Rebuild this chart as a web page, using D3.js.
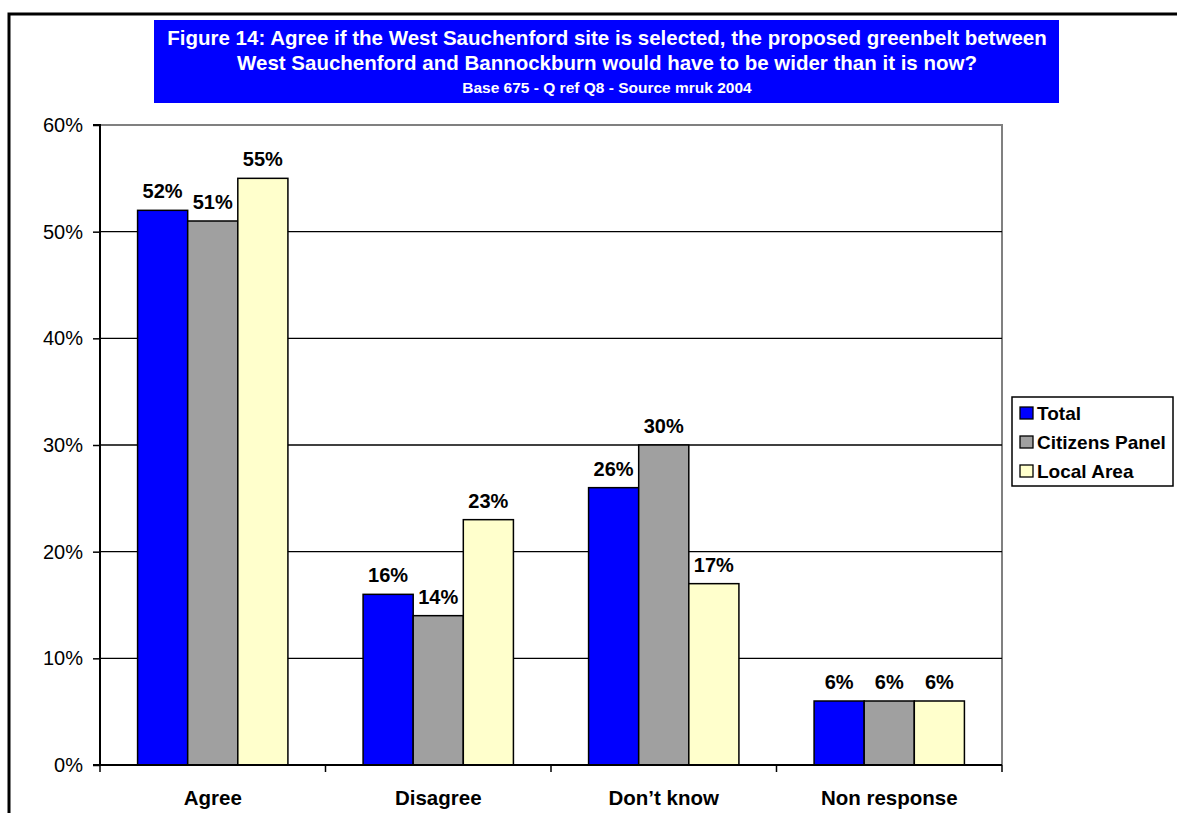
<!DOCTYPE html>
<html>
<head>
<meta charset="utf-8">
<script src="https://cdn.jsdelivr.net/npm/d3@7"></script>
<style>
  html, body { margin: 0; padding: 0; background: #fff; }
  svg { display: block; font-family: Arial, "Liberation Sans", Helvetica, sans-serif; }
</style>
</head>
<body>
<svg id="chart" width="1177" height="813"></svg>
<script>
// Survey responses by group
const categories = ["Agree", "Disagree", "Don\u2019t know", "Non response"];
const seriesNames = ["Total", "Citizens Panel", "Local Area"];
const totalValues = [52, 16, 26, 6];
const citizensPanelValues = [51, 14, 30, 6];
const localAreaValues = [55, 23, 17, 6];
const yTicks = [0, 10, 20, 30, 40, 50, 60];
const titleLines = [
  "Figure 14: Agree if the West Sauchenford site is selected, the proposed greenbelt between",
  "West Sauchenford and Bannockburn would have to be wider than it is now?"
];
const subtitle = "Base 675 - Q ref Q8 - Source mruk 2004";

const seriesValues = [totalValues, citizensPanelValues, localAreaValues];
const colors = ["#0000FF", "#A0A0A0", "#FFFFCC"];

const svg = d3.select("#chart");

// Outer frame (top and left edges visible)
svg.append("path")
  .attr("d", "M9,813 V14 H1177")
  .attr("fill", "none")
  .attr("stroke", "#000")
  .attr("stroke-width", 3);

// Title banner
svg.append("rect")
  .attr("x", 154).attr("y", 20).attr("width", 905).attr("height", 83)
  .attr("fill", "#0000FF");
const titleX = 607;
titleLines.forEach((t, i) => {
  svg.append("text")
    .attr("x", titleX).attr("y", 45 + i * 25)
    .attr("text-anchor", "middle")
    .attr("fill", "#fff")
    .attr("font-weight", "bold")
    .attr("font-size", 20.5)
    .text(t);
});
svg.append("text")
  .attr("x", titleX).attr("y", 93)
  .attr("text-anchor", "middle")
  .attr("fill", "#fff")
  .attr("font-weight", "bold")
  .attr("font-size", 15.5)
  .text(subtitle);

// Plot area
const plot = { left: 100, right: 1002, top: 125, bottom: 765 };

const x0 = d3.scaleBand()
  .domain(categories)
  .range([plot.left, plot.right])
  .paddingInner(0)
  .paddingOuter(0);
const x1 = d3.scaleBand()
  .domain(seriesNames)
  .range([0, x0.bandwidth()])
  .paddingOuter(0.75)
  .paddingInner(0);
const y = d3.scaleLinear().domain([0, 60]).range([plot.bottom, plot.top]);

// Plot border (gray)
svg.append("path")
  .attr("d", `M${plot.left},${plot.top} H${plot.right} V${plot.bottom}`)
  .attr("fill", "none")
  .attr("stroke", "#808080")
  .attr("stroke-width", 2);

// Gridlines
svg.append("g")
  .selectAll("line")
  .data(yTicks.filter(t => t > 0 && t < 60))
  .join("line")
  .attr("x1", plot.left).attr("x2", plot.right)
  .attr("y1", d => y(d)).attr("y2", d => y(d))
  .attr("stroke", "#000")
  .attr("stroke-width", 1.3);

// Bars
const groups = svg.append("g")
  .selectAll("g")
  .data(categories)
  .join("g")
  .attr("transform", d => `translate(${x0(d)},0)`);

groups.selectAll("rect")
  .data((c, ci) => seriesNames.map((s, si) => ({ s, si, v: seriesValues[si][ci] })))
  .join("rect")
  .attr("x", d => x1(d.s))
  .attr("y", d => y(d.v))
  .attr("width", x1.bandwidth())
  .attr("height", d => y(0) - y(d.v))
  .attr("fill", d => colors[d.si])
  .attr("stroke", "#000")
  .attr("stroke-width", 1.5);

groups.selectAll("text")
  .data((c, ci) => seriesNames.map((s, si) => ({ s, si, v: seriesValues[si][ci] })))
  .join("text")
  .attr("x", d => x1(d.s) + x1.bandwidth() / 2)
  .attr("y", d => y(d.v) - 12)
  .attr("text-anchor", "middle")
  .attr("font-weight", "bold")
  .attr("font-size", 20)
  .attr("fill", "#000")
  .text(d => d.v + "%");

// Y axis
const yAxis = d3.axisLeft(y)
  .tickValues(yTicks)
  .tickSize(7)
  .tickPadding(10)
  .tickFormat(d => d + "%");
const yg = svg.append("g")
  .attr("transform", `translate(${plot.left},0)`)
  .call(yAxis);
yg.select(".domain").attr("stroke", "#000").attr("stroke-width", 2)
  .attr("d", `M-7,${plot.top}H0V${plot.bottom}H-7`);
yg.selectAll(".tick line").attr("stroke", "#000").attr("stroke-width", 1.5);
yg.selectAll(".tick text")
  .attr("font-size", 20)
  .attr("font-family", "Arial, 'Liberation Sans', sans-serif")
  .attr("fill", "#000");

// X axis: ticks at category boundaries
const xBoundaries = categories.map(c => x0(c)).concat([plot.right]);
const xg = svg.append("g");
xg.append("line")
  .attr("x1", plot.left).attr("x2", plot.right)
  .attr("y1", plot.bottom).attr("y2", plot.bottom)
  .attr("stroke", "#000").attr("stroke-width", 2);
xg.selectAll("line.tick")
  .data(xBoundaries)
  .join("line")
  .attr("class", "tick")
  .attr("x1", d => d).attr("x2", d => d)
  .attr("y1", plot.bottom).attr("y2", plot.bottom + 7)
  .attr("stroke", "#000").attr("stroke-width", 1.5);
xg.selectAll("text")
  .data(categories)
  .join("text")
  .attr("x", d => x0(d) + x0.bandwidth() / 2)
  .attr("y", 805)
  .attr("text-anchor", "middle")
  .attr("font-weight", "bold")
  .attr("font-size", 20.5)
  .attr("fill", "#000")
  .text(d => d);

// Legend
const legend = svg.append("g");
legend.append("rect")
  .attr("x", 1012).attr("y", 397).attr("width", 161).attr("height", 89)
  .attr("fill", "#fff").attr("stroke", "#000").attr("stroke-width", 1.5);
const legendItems = legend.selectAll("g")
  .data(seriesNames)
  .join("g")
  .attr("transform", (d, i) => `translate(1020,${413 + i * 29})`);
legendItems.append("rect")
  .attr("x", 0).attr("y", -6).attr("width", 13).attr("height", 12)
  .attr("fill", (d, i) => colors[i])
  .attr("stroke", "#000").attr("stroke-width", 1.3);
legendItems.append("text")
  .attr("x", 17).attr("y", 7)
  .attr("font-weight", "bold")
  .attr("font-size", 19)
  .attr("fill", "#000")
  .text(d => d);
</script>
</body>
</html>
